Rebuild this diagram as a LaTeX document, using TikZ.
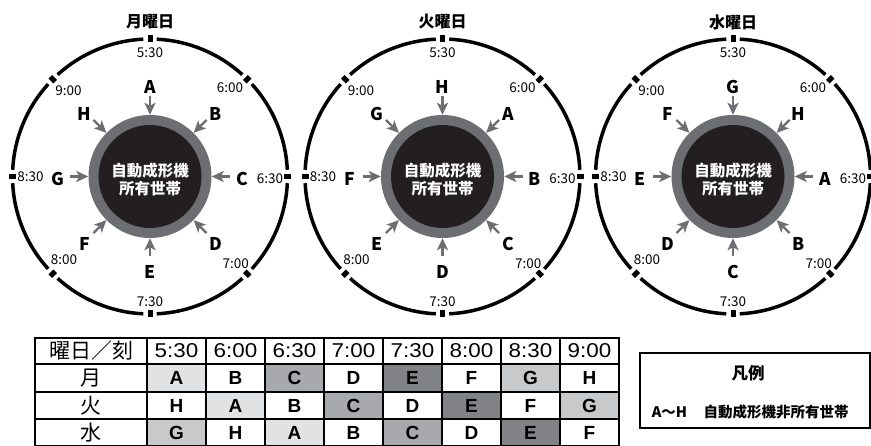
\documentclass[tikz,border=0pt]{standalone}
\usepackage{fontspec}
\setmainfont{Noto Sans CJK JP}
\newfontfamily\arialfont{Liberation Sans}
\newfontfamily\arialwide[FakeStretch=1.12]{Liberation Sans}
\usetikzlibrary{arrows.meta,calc}
\definecolor{ringgray}{HTML}{6D6E71}
\definecolor{discblack}{HTML}{231F20}
\definecolor{arrgray}{HTML}{6D6E71}
\definecolor{cellA}{HTML}{E1E2E3}
\definecolor{cellG}{HTML}{C8C9CB}
\definecolor{cellC}{HTML}{A8A9AC}
\definecolor{cellE}{HTML}{808285}
\colorlet{cellB}{white}
\colorlet{cellD}{white}
\colorlet{cellF}{white}
\colorlet{cellH}{white}
\tikzset{
  dialtitle/.style={font=\fontsize{16}{16}\selectfont\bfseries, inner sep=0pt},
  dialline/.style={line width=3.5pt, draw=black},
  ticksq/.style={fill=black, minimum width=7pt, minimum height=5pt, inner sep=0pt},
  ringnode/.style={circle, fill=ringgray, minimum size=123pt, inner sep=0pt},
  discnode/.style={circle, fill=discblack, minimum size=103pt, inner sep=0pt},
  disctext/.style={text=white, align=center, font=\fontsize{15.5}{18.5}\selectfont\bfseries, inner sep=0pt},
  timelbl/.style={font=\fontsize{13.5}{13.5}\selectfont, inner sep=0pt},
  letlbl/.style={font=\fontsize{17.5}{17.5}\selectfont\bfseries, inner sep=0pt},
  arr/.style={draw=arrgray, line width=2.4pt, -{Stealth[length=12pt,width=11pt,inset=3pt]}},
  tcell/.style={draw=black, line width=1.8pt, inner sep=0pt, minimum height=27pt},
  jpcell/.style={font=\fontsize{21}{21}\selectfont},
  timecell/.style={font=\arialwide\fontsize{20}{20}\selectfont},
  letcell/.style={font=\arialfont\bfseries\fontsize{19}{19}\selectfont},
  legendtxt/.style={font=\fontsize{14.5}{14.5}\selectfont\bfseries, inner sep=0pt}
}
% #1 prefix, #2 center x, #3 title, #4 letters from top clockwise
\newcommand\clockdial[4]{%
\begin{scope}[shift={(#2,268.5)}]
  \node[dialtitle] (#1title) at (0,154.5) {#3};
  \foreach \k in {0,...,7}{
    \pgfmathsetmacro\sa{45*\k+2.8}
    \pgfmathsetmacro\ea{45*\k+45-2.8}
    \draw[dialline] (\sa:137.5) arc[start angle=\sa, end angle=\ea, radius=137.5];
    \pgfmathsetmacro\ta{45*\k}
    \node[ticksq, rotate=\ta] (#1tick\k) at (\ta:137.5) {};
  }
  \node[ringnode] (#1ring) at (0,0) {};
  \node[discnode] (#1disc) at (0,0) {};
  \node[disctext] (#1text) at (0,-3) {自動成形機\\所有世帯};
  \foreach \t/\x/\y [count=\i] in {5:30/0/123.5, 6:00/80/88.5, 6:30/120/-2, 7:00/85.7/-86.8, 7:30/0/-125, 8:00/-86/-83, 8:30/-119.5/-0.5, 9:00/-81.5/86}{
    \node[timelbl] (#1time\i) at (\x,\y) {\t};
  }
  \foreach \L [count=\i from 0] in {#4}{
    \pgfmathsetmacro\ang{90-45*\i}
    \node[letlbl] (#1let\i) at ($(\ang:92.5)+(0,-2.5)$) {\L};
    \coordinate (#1tail\i) at (\ang:80);
    \draw[arr] (#1tail\i) -- (#1ring);
  }
\end{scope}}
\begin{document}
\begin{tikzpicture}[x=1pt,y=1pt]
\useasboundingbox (0,0) rectangle (871,445);
\clip (0,0) rectangle (871,445);
\fill[white] (0,0) rectangle (871,445);
\clockdial{m}{150}{月曜日}{A,B,C,D,E,F,G,H}
\clockdial{t}{442.5}{火曜日}{H,A,B,C,D,E,F,G}
\clockdial{w}{733}{水曜日}{G,H,A,B,C,D,E,F}
% table
\node[tcell, minimum width=112pt, minimum height=26pt, jpcell] (hd) at (91,94) {曜日／刻};
\foreach \t [count=\i from 0] in {5:30,6:00,6:30,7:00,7:30,8:00,8:30,9:00}{
  \node[tcell, minimum width=59pt, minimum height=26pt, timecell] (h\i) at (176.5+59*\i,94) {\t};
}
\foreach \d/\y/\h/\row [count=\r] in {月/67/28/{A,B,C,D,E,F,G,H}, 火/39.5/27/{H,A,B,C,D,E,F,G}, 水/12.5/27/{G,H,A,B,C,D,E,F}}{
  \node[tcell, minimum width=112pt, minimum height=\h pt, jpcell] (day\r) at (91,\y) {\d};
  \foreach \L [count=\i from 0] in \row {
    \node[tcell, minimum width=59pt, minimum height=\h pt, fill=cell\L, letcell] (c\r-\i) at (176.5+59*\i,\y) {\L};
  }
}
\draw[line width=2.4pt] (35,-2) rectangle (619,107);
% legend
\node[draw=black, line width=1.8pt, minimum width=230pt, minimum height=75pt, inner sep=0pt] (legend) at (755,54.5) {};
\node[font=\fontsize{16.5}{16.5}\selectfont\bfseries, inner sep=0pt] (legtitle) at (748,72) {凡例};
\node[legendtxt] (legkey) at (669.5,33) {A〜H};
\node[legendtxt] (legdesc) at (776,33) {自動成形機非所有世帯};
\end{tikzpicture}
\end{document}
